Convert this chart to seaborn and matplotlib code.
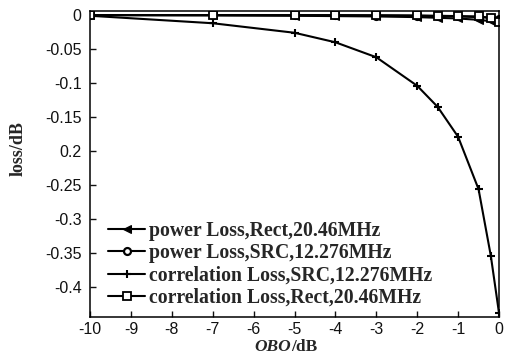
import matplotlib
matplotlib.use("Agg")
import matplotlib.pyplot as plt
import seaborn as sns
import pandas as pd

# Output back-off points (dB)
obo = [-10, -7, -5, -4, -3, -2, -1.5, -1, -0.5, -0.2, 0]

# Loss curves (dB)
power_rect = [0, -0.0005, -0.001, -0.0015, -0.002, -0.003, -0.004, -0.005, -0.007, -0.009, -0.012]
power_src = [0, 0, -0.0003, -0.0005, -0.0008, -0.0012, -0.0016, -0.002, -0.003, -0.004, -0.006]
corr_src = [-0.001, -0.012, -0.026, -0.040, -0.062, -0.104, -0.135, -0.179, -0.256, -0.354, -0.438]
corr_rect = [0, 0, 0, 0, -0.0002, -0.0005, -0.001, -0.0015, -0.002, -0.004, -0.010]

labels = [
    "power Loss,Rect,20.46MHz",
    "power Loss,SRC,12.276MHz",
    "correlation Loss,SRC,12.276MHz",
    "correlation Loss,Rect,20.46MHz",
]

yticks = [0, -0.05, -0.1, -0.15, -0.2, -0.25, -0.3, -0.35, -0.4]
ytick_labels = ["0", "-0.05", "-0.1", "-0.15", "0.2", "-0.25", "-0.3", "-0.35", "-0.4"]
xticks = [-10, -9, -8, -7, -6, -5, -4, -3, -2, -1, 0]

sns.set_theme(style="white")
plt.rcParams["font.family"] = ["Liberation Sans", "DejaVu Sans"]
plt.rcParams["axes.unicode_minus"] = False

fig = plt.figure(figsize=(5.08, 3.58), dpi=100)
ax = fig.add_axes([90 / 508, 41 / 358, 409 / 508, 306 / 358])

series = [power_rect, power_src, corr_src, corr_rect]
styles = [
    dict(marker="<", markersize=6, markerfacecolor="black"),
    dict(marker="o", markersize=5, markerfacecolor="white", markeredgewidth=1.6),
    dict(marker="+", markersize=6, markeredgewidth=1.5),
    dict(marker="s", markersize=5.5, markerfacecolor="white", markeredgewidth=1.3),
]

for vals, lab, st in zip(series, labels, styles):
    df = pd.DataFrame({"OBO": obo, "loss": vals})
    sns.lineplot(data=df, x="OBO", y="loss", ax=ax, color="black", lw=1.5,
                 markeredgecolor="black", label=lab, sort=False, **st)

ax.set_xlim(-10, 0)
ax.set_ylim(-0.444, 0.006)
ax.set_xticks(xticks)
ax.set_xticklabels([str(t) for t in xticks])
ax.set_yticks(yticks)
ax.set_yticklabels(ytick_labels)

for sp in ax.spines.values():
    sp.set_color("black")
    sp.set_linewidth(1.1)
ax.tick_params(axis="both", direction="in", length=4, width=1.0, colors="#111111",
               labelsize=11.5, bottom=True, left=True, top=False, right=False)
ax.tick_params(axis="y", pad=6)
ax.tick_params(axis="x", pad=3.5)

# x label: italic "OBO" followed by upright "/dB"
ax.set_xlabel("OBO", fontsize=12.5, fontfamily="Liberation Serif",
              fontweight="bold", fontstyle="italic", ha="right")
ax.xaxis.set_label_coords(0.492, -0.072)
ax.annotate("/dB", xy=(1, 0), xycoords=ax.xaxis.label, ha="left", va="bottom",
            fontsize=12.5, fontfamily="Liberation Serif", fontweight="bold")

ax.set_ylabel("loss/dB", fontsize=13, fontfamily="Liberation Serif",
              fontweight="bold")
ax.yaxis.set_label_coords(-0.155, 0.55)

leg = ax.legend(loc="lower left", bbox_to_anchor=(0.044, 0.03), frameon=False,
                prop={"family": "Liberation Serif", "weight": "bold", "size": 14.2},
                handlelength=1.9, handletextpad=0.2, labelspacing=0.12,
                borderpad=0, borderaxespad=0)

fig.savefig("out.png", dpi=100)
